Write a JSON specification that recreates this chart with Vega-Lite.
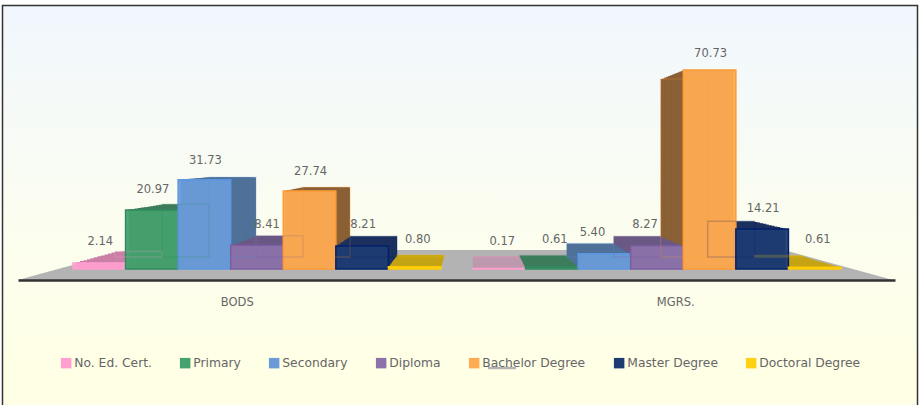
{"$schema":"https://vega.github.io/schema/vega-lite/v6.json","width":919,"height":405,"autosize":{"type":"none"},"padding":0,"background":"#ffffff","config":{"view":{"stroke":null},"font":"DejaVu Sans"},
"datasets":{"bars":[
{"group":"BODS","level":"No. Ed. Cert.","value":2.14},{"group":"BODS","level":"Primary","value":20.97},{"group":"BODS","level":"Secondary","value":31.73},{"group":"BODS","level":"Diploma","value":8.41},{"group":"BODS","level":"Bachelor Degree","value":27.74},{"group":"BODS","level":"Master Degree","value":8.21},{"group":"BODS","level":"Doctoral Degree","value":0.8},
{"group":"MGRS.","level":"No. Ed. Cert.","value":0.17},{"group":"MGRS.","level":"Primary","value":0.61},{"group":"MGRS.","level":"Secondary","value":5.4},{"group":"MGRS.","level":"Diploma","value":8.27},{"group":"MGRS.","level":"Bachelor Degree","value":70.73},{"group":"MGRS.","level":"Master Degree","value":14.21},{"group":"MGRS.","level":"Doctoral Degree","value":0.61}],
"floor":[{"u":0,"d":0},{"u":0.125,"d":1},{"u":0.875,"d":1},{"u":1,"d":0}]},
"resolve":{"scale":{"x":"independent","y":"independent","color":"independent","xOffset":"independent"}},
"layer":[
{"data":{"values":[{"a":1}]},"mark":{"type":"rect","stroke":"#333333","strokeWidth":1.5,"color":{"gradient":"linear","x1":0,"y1":0,"x2":0,"y2":1,"stops":[{"offset":0,"color":"#f1f7fe"},{"offset":0.5,"color":"#fbfdf0"},{"offset":0.85,"color":"#ffffe6"},{"offset":1,"color":"#ffffe6"}]}},
"encoding":{"x":{"datum":0,"type":"quantitative","scale":{"domain":[0,1],"range":[2.5,917.5]},"axis":null},"x2":{"datum":1},"y":{"datum":0,"type":"quantitative","scale":{"domain":[0,1],"range":[5.5,425]},"axis":null},"y2":{"datum":1}}},
{"data":{"name":"floor"},"mark":{"type":"area","color":"#b3b3b3"},
"encoding":{"x":{"field":"u","type":"quantitative","scale":{"domain":[0,1],"range":[18,893]},"axis":null},"y":{"field":"d","type":"quantitative","scale":{"domain":[0,1],"range":[280,250]},"axis":null},"y2":{"datum":0}}},
{"data":{"values":[{"a":1}]},"mark":{"type":"rule","color":"#b3b3b3","strokeWidth":2.5},
"encoding":{"x":{"datum":0,"type":"quantitative","scale":{"domain":[0,1],"range":[488,516]},"axis":null},"x2":{"datum":1},"y":{"datum":0,"type":"quantitative","scale":{"domain":[0,1],"range":[368,368]},"axis":null}}},
{"data":{"name":"bars"},"mark":{"type":"bar","opacity":0},
"encoding":{"x":{"field":"group","type":"nominal","scale":{"domain":["BODS","MGRS."],"paddingInner":0,"paddingOuter":0,"range":[18,895]},"axis":{"title":null,"orient":"bottom","offset":-125,"zindex":1,"domainColor":"#333333","domainWidth":2.5,"ticks":false,"labelAngle":0,"labelColor":"#666666","labelFontSize":11.5,"labelPadding":16}}}},
{"data":{"name":"bars"},
"resolve":{"scale":{"x":"independent","y":"independent","color":"shared","xOffset":"independent"}},
"encoding":{"xOffset":{"field":"level","type":"nominal","sort":null,"scale":{"domain":["No. Ed. Cert.","Primary","Secondary","Diploma","Bachelor Degree","Master Degree","Doctoral Degree"],"paddingInner":0,"paddingOuter":0}},
"color":{"field":"level","type":"nominal","legend":null,"scale":{"domain":["No. Ed. Cert.","Primary","Secondary","Diploma","Bachelor Degree","Master Degree","Doctoral Degree"],"range":["#c97fa6","#3c7d5d","#4f7198","#6a5984","#8a6035","#1c315f","#c4a314"]}}},
"layer":[
{"mark":{"type":"bar"},"encoding":{"x":{"field":"group","type":"nominal","axis":null,"scale":{"paddingInner":0.08,"paddingOuter":0,"range":[115,801.7]}},"y":{"field":"value","type":"quantitative","axis":null,"scale":{"domain":[0,70.73],"range":[257,79.1]}}}},
{"mark":{"type":"bar"},"encoding":{"x":{"field":"group","type":"nominal","axis":null,"scale":{"paddingInner":0.08,"paddingOuter":0,"range":[111.6,805]}},"y":{"field":"value","type":"quantitative","axis":null,"scale":{"domain":[0,70.73],"range":[258,78.4]}}}},
{"mark":{"type":"bar"},"encoding":{"x":{"field":"group","type":"nominal","axis":null,"scale":{"paddingInner":0.08,"paddingOuter":0,"range":[108,808.2]}},"y":{"field":"value","type":"quantitative","axis":null,"scale":{"domain":[0,70.73],"range":[259,77.6]}}}},
{"mark":{"type":"bar"},"encoding":{"x":{"field":"group","type":"nominal","axis":null,"scale":{"paddingInner":0.08,"paddingOuter":0,"range":[104.6,811.5]}},"y":{"field":"value","type":"quantitative","axis":null,"scale":{"domain":[0,70.73],"range":[260,76.8]}}}},
{"mark":{"type":"bar"},"encoding":{"x":{"field":"group","type":"nominal","axis":null,"scale":{"paddingInner":0.08,"paddingOuter":0,"range":[101,814.8]}},"y":{"field":"value","type":"quantitative","axis":null,"scale":{"domain":[0,70.73],"range":[261,76.1]}}}},
{"mark":{"type":"bar"},"encoding":{"x":{"field":"group","type":"nominal","axis":null,"scale":{"paddingInner":0.08,"paddingOuter":0,"range":[97.6,818]}},"y":{"field":"value","type":"quantitative","axis":null,"scale":{"domain":[0,70.73],"range":[262,75.3]}}}},
{"mark":{"type":"bar"},"encoding":{"x":{"field":"group","type":"nominal","axis":null,"scale":{"paddingInner":0.08,"paddingOuter":0,"range":[94,821.3]}},"y":{"field":"value","type":"quantitative","axis":null,"scale":{"domain":[0,70.73],"range":[263,74.6]}}}},
{"mark":{"type":"bar"},"encoding":{"x":{"field":"group","type":"nominal","axis":null,"scale":{"paddingInner":0.08,"paddingOuter":0,"range":[90.5,824.6]}},"y":{"field":"value","type":"quantitative","axis":null,"scale":{"domain":[0,70.73],"range":[264,73.8]}}}},
{"mark":{"type":"bar"},"encoding":{"x":{"field":"group","type":"nominal","axis":null,"scale":{"paddingInner":0.08,"paddingOuter":0,"range":[87,827.9]}},"y":{"field":"value","type":"quantitative","axis":null,"scale":{"domain":[0,70.73],"range":[265,73]}}}},
{"mark":{"type":"bar"},"encoding":{"x":{"field":"group","type":"nominal","axis":null,"scale":{"paddingInner":0.08,"paddingOuter":0,"range":[83.5,831.2]}},"y":{"field":"value","type":"quantitative","axis":null,"scale":{"domain":[0,70.73],"range":[266,72.3]}}}},
{"mark":{"type":"bar"},"encoding":{"x":{"field":"group","type":"nominal","axis":null,"scale":{"paddingInner":0.08,"paddingOuter":0,"range":[80,834.4]}},"y":{"field":"value","type":"quantitative","axis":null,"scale":{"domain":[0,70.73],"range":[267,71.5]}}}},
{"mark":{"type":"bar"},"encoding":{"x":{"field":"group","type":"nominal","axis":null,"scale":{"paddingInner":0.08,"paddingOuter":0,"range":[76.5,837.7]}},"y":{"field":"value","type":"quantitative","axis":null,"scale":{"domain":[0,70.73],"range":[268,70.8]}}}}
]},
{"data":{"name":"bars"},"mark":{"type":"bar","fillOpacity":0.94,"strokeWidth":1.5},
"encoding":{"x":{"field":"group","type":"nominal","axis":null,"scale":{"paddingInner":0.08,"paddingOuter":0,"range":[73,841]}},"xOffset":{"field":"level","type":"nominal","sort":null,"scale":{"domain":["No. Ed. Cert.","Primary","Secondary","Diploma","Bachelor Degree","Master Degree","Doctoral Degree"],"paddingInner":0,"paddingOuter":0}},"y":{"field":"value","type":"quantitative","axis":null,"scale":{"domain":[0,70.73],"range":[269,70]}},
"fill":{"field":"level","type":"nominal","sort":null,"scale":{"domain":["No. Ed. Cert.","Primary","Secondary","Diploma","Bachelor Degree","Master Degree","Doctoral Degree"],"range":["#ff9fcf","#45a26f","#6a9bd8","#8b72a9","#ffab52","#1f3b73","#ffd014"]},
"legend":{"title":null,"orient":"none","legendX":60,"legendY":357,"direction":"horizontal","columns":7,"gridAlign":"none","columnPadding":27,"symbolType":"square","symbolSize":110,"symbolStrokeWidth":0,"symbolOpacity":1,"labelColor":"#666666","labelFontSize":12.3,"labelOffset":2,"labelLimit":200}},
"stroke":{"field":"level","type":"nominal","legend":null,"scale":{"domain":["No. Ed. Cert.","Primary","Secondary","Diploma","Bachelor Degree","Master Degree","Doctoral Degree"],"range":["#ff9ecf","#2e8b5e","#5b96e0","#7c5ca0","#ff9a33","#00206a","#ffcc00"]}}}},
{"data":{"name":"bars"},"mark":{"type":"bar","fillOpacity":0,"strokeOpacity":0.2,"strokeWidth":1.5},
"encoding":{"x":{"field":"group","type":"nominal","axis":null,"scale":{"paddingInner":0.08,"paddingOuter":0,"range":[115,801.7]}},"xOffset":{"field":"level","type":"nominal","sort":null,"scale":{"domain":["No. Ed. Cert.","Primary","Secondary","Diploma","Bachelor Degree","Master Degree","Doctoral Degree"],"paddingInner":0,"paddingOuter":0}},"y":{"field":"value","type":"quantitative","axis":null,"scale":{"domain":[0,70.73],"range":[257,79.1]}},
"stroke":{"field":"level","type":"nominal","legend":null,"scale":{"domain":["No. Ed. Cert.","Primary","Secondary","Diploma","Bachelor Degree","Master Degree","Doctoral Degree"],"range":["#ff9ecf","#2e8b5e","#5b96e0","#7c5ca0","#ff9a33","#00206a","#ffcc00"]}}}},
{"data":{"name":"bars"},
"encoding":{"x":{"field":"group","type":"nominal","axis":null,"scale":{"domain":["BODS","MGRS."],"paddingInner":0.08,"paddingOuter":0,"range":[73,841]}},"xOffset":{"field":"level","type":"nominal","sort":null,"scale":{"type":"point","padding":0.5,"domain":["No. Ed. Cert.","Primary","Secondary","Diploma","Bachelor Degree","Master Degree","Doctoral Degree"]}},"y":{"field":"value","type":"quantitative","axis":null,"scale":{"domain":[0,70.73],"range":[248,54]}},"text":{"field":"value","type":"quantitative","format":".2f"}},
"layer":[
{"transform":[{"filter":"datum.value >= 1 && datum.value != 5.4 && datum.value != 8.27 && datum.value != 8.41"}],"mark":{"type":"text","dx":1,"fontSize":11.5,"color":"#666666"}},
{"transform":[{"filter":"datum.value < 1"}],"mark":{"type":"text","dx":3,"dy":-6,"fontSize":11.5,"color":"#666666"}},
{"transform":[{"filter":"datum.value == 5.4 || datum.value == 8.27"}],"mark":{"type":"text","dx":-12,"fontSize":11.5,"color":"#666666"}},
{"transform":[{"filter":"datum.value == 8.41"}],"mark":{"type":"text","dx":10,"fontSize":11.5,"color":"#666666"}}
]}
]}
